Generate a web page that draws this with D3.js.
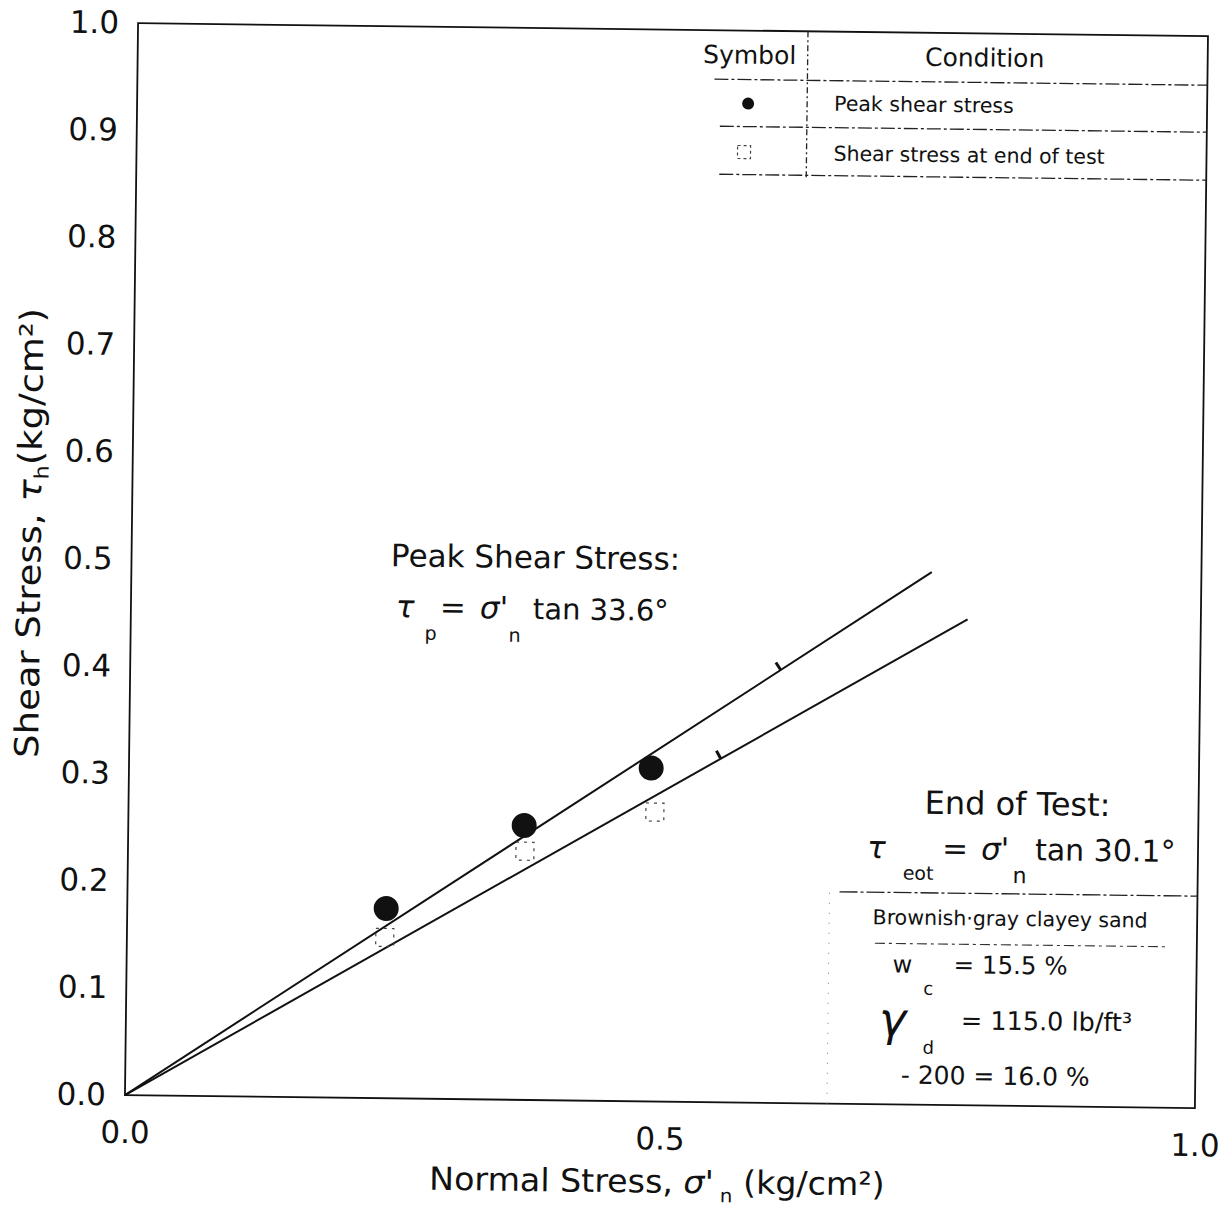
<!DOCTYPE html>
<html>
<head>
<meta charset="utf-8">
<script src="https://d3js.org/d3.v7.min.js"></script>
<style>
  html, body { margin: 0; padding: 0; background: #fff; }
  svg { display: block; }
  text { font-family: "DejaVu Sans", "Liberation Sans", sans-serif; fill: #111; }
</style>
</head>
<body>
<svg id="chart" width="1228" height="1209"></svg>
<script>
// Direct shear test results — brownish-gray clayey sand
const peakNormal = [0.242, 0.370, 0.488];   // σ'n, kg/cm²
const peakShear  = [0.177, 0.256, 0.311];   // τp, kg/cm²
const eotNormal  = [0.241, 0.371, 0.492];
const eotShear   = [0.150, 0.232, 0.270];
const peakAngle = 33.6;     // friction angle, degrees
const eotAngle  = 30.1;
const peakLineEnd = 0.748;  // σ'n where each envelope is stopped
const eotLineEnd  = 0.782;
const xTicks = [0, 0.5, 1.0];
const yTicks = [0, 0.1, 0.2, 0.3, 0.4, 0.5, 0.6, 0.7, 0.8, 0.9, 1.0];
const legendHeader = ["Symbol", "Condition"];
const legendRows = ["Peak shear stress", "Shear stress at end of test"];
const soilName = "Brownish·gray clayey sand";
const waterContent = "15.5 %";
const dryUnitWeight = "115.0 lb/ft³";
const fines = "16.0 %";

const svg = d3.select("#chart");
svg.append("rect").attr("width", 1228).attr("height", 1209).attr("fill", "#fff");

// whole sheet sits with a slight clockwise tilt
const g = svg.append("g").attr("transform", "rotate(0.7 614 604)");

const x = d3.scaleLinear().domain([0, 1]).range([131, 1201]);
const y = d3.scaleLinear().domain([0, 1]).range([1101, 29]);

// plot frame
g.append("rect")
  .attr("x", x(0)).attr("y", y(1))
  .attr("width", x(1) - x(0)).attr("height", y(0) - y(1))
  .attr("fill", "none").attr("stroke", "#111").attr("stroke-width", 1.8);

// axes (labels only, no tick marks)
const fmt = d3.format(".1f");
const yAxis = g.append("g").attr("transform", `translate(${x(0)},0)`)
  .call(d3.axisLeft(y).tickValues(yTicks).tickSize(0).tickPadding(19).tickFormat(fmt));
const xAxis = g.append("g").attr("transform", `translate(0,${y(0)})`)
  .call(d3.axisBottom(x).tickValues(xTicks).tickSize(0).tickPadding(26).tickFormat(fmt));
[yAxis, xAxis].forEach(a => {
  a.select(".domain").remove();
  a.selectAll("text").attr("font-size", 31).attr("font-family", '"DejaVu Sans", sans-serif').attr("fill", "#111");
});

// axis titles (set slightly wide)
const xt = g.append("text").attr("transform", "translate(664,1192) scale(1.04,1)")
  .attr("text-anchor", "middle").attr("font-size", 32);
xt.append("tspan").text("Normal Stress, ");
xt.append("tspan").text("σ'").attr("font-style", "italic");
xt.append("tspan").text(" n").attr("font-size", 19).attr("dy", 9);
xt.append("tspan").text(" (kg/cm²)").attr("dy", -9);

const yt = g.append("text").attr("transform", "translate(40,540) rotate(-90) scale(1.12,1)")
  .attr("text-anchor", "middle").attr("font-size", 33);
yt.append("tspan").text("Shear Stress, ");
yt.append("tspan").text("τ").attr("font-style", "italic");
yt.append("tspan").text("h").attr("font-size", 20).attr("dy", 7);
yt.append("tspan").text("(kg/cm²)").attr("dy", -7);

// failure envelopes
const line = d3.line().x(d => x(d[0])).y(d => y(d[1]));
const envelopes = [
  { angle: peakAngle, end: peakLineEnd, tick: 0.608 },
  { angle: eotAngle,  end: eotLineEnd,  tick: 0.553 }
];
envelopes.forEach(e => {
  const t = Math.tan(e.angle * Math.PI / 180);
  g.append("path").attr("d", line([[0, 0], [e.end, e.end * t]]))
    .attr("fill", "none").attr("stroke", "#111").attr("stroke-width", 2);
  // small mark on the envelope
  const px = x(e.tick), py = y(e.tick * t);
  const ang = Math.atan2(y(0) - y(t), x(1) - x(0));
  g.append("line")
    .attr("x1", px).attr("y1", py)
    .attr("x2", px - 9 * Math.sin(ang)).attr("y2", py - 9 * Math.cos(ang))
    .attr("stroke", "#111").attr("stroke-width", 3);
});

// end-of-test points (faint open squares)
g.selectAll(".eot").data(eotNormal.map((v, i) => [v, eotShear[i]])).join("rect")
  .attr("class", "eot")
  .attr("x", d => x(d[0]) - 9).attr("y", d => y(d[1]) - 9)
  .attr("width", 18).attr("height", 18)
  .attr("fill", "none").attr("stroke", "#444").attr("stroke-width", 1.2)
  .attr("stroke-dasharray", "3,5");

// peak points
g.selectAll(".peak").data(peakNormal.map((v, i) => [v, peakShear[i]])).join("circle")
  .attr("class", "peak")
  .attr("cx", d => x(d[0])).attr("cy", d => y(d[1])).attr("r", 12.5)
  .attr("fill", "#111");

// legend table
const dash = "14,3,3,3";
const leg = g.append("g");
[[708, 78], [714, 125], [714, 173]].forEach(([x0, yy]) => {
  leg.append("line").attr("x1", x0).attr("x2", x(1)).attr("y1", yy).attr("y2", yy)
    .attr("stroke", "#222").attr("stroke-width", 1.3).attr("stroke-dasharray", dash);
});
leg.append("line").attr("x1", 801).attr("x2", 801).attr("y1", y(1)).attr("y2", 176)
  .attr("stroke", "#222").attr("stroke-width", 1.3).attr("stroke-dasharray", "6,3,2,3");
leg.append("text").attr("x", 743).attr("y", 62).attr("text-anchor", "middle").attr("font-size", 25).text(legendHeader[0]);
leg.append("text").attr("x", 978).attr("y", 62).attr("text-anchor", "middle").attr("font-size", 25).text(legendHeader[1]);
leg.append("circle").attr("cx", 742).attr("cy", 102).attr("r", 6).attr("fill", "#111");
leg.append("rect").attr("x", 732).attr("y", 144).attr("width", 13).attr("height", 13)
  .attr("fill", "none").attr("stroke", "#444").attr("stroke-width", 1.2).attr("stroke-dasharray", "3,3");
legendRows.forEach((r, i) => {
  leg.append("text").attr("x", 828).attr("y", 108 + i * 50).attr("font-size", 20.5).text(r);
});

// peak envelope annotation
const pa = g.append("g");
pa.append("text").attr("x", 535).attr("y", 569).attr("text-anchor", "middle").attr("font-size", 31).text("Peak Shear Stress:");
pa.append("text").attr("x", 396).attr("y", 620).attr("font-size", 31).attr("font-style", "italic").text("τ");
pa.append("text").attr("x", 425).attr("y", 642).attr("font-size", 19).text("p");
pa.append("text").attr("x", 440).attr("y", 620).attr("font-size", 31).text("=");
pa.append("text").attr("x", 480).attr("y", 620).attr("font-size", 31).attr("font-style", "italic").text("σ'");
pa.append("text").attr("x", 509).attr("y", 643).attr("font-size", 19).text("n");
pa.append("text").attr("x", 533).attr("y", 620).attr("font-size", 29).text(`tan ${peakAngle}°`);

// end-of-test annotation and soil data box
const ea = g.append("g");
ea.append("text").attr("x", 1020).attr("y", 810).attr("text-anchor", "middle").attr("font-size", 32).text("End of Test:");
ea.append("text").attr("x", 870).attr("y", 855).attr("font-size", 31).attr("font-style", "italic").text("τ");
ea.append("text").attr("x", 906).attr("y", 876).attr("font-size", 19).text("eot");
ea.append("text").attr("x", 945).attr("y", 855).attr("font-size", 31).text("=");
ea.append("text").attr("x", 984).attr("y", 855).attr("font-size", 31).attr("font-style", "italic").text("σ'");
ea.append("text").attr("x", 1016).attr("y", 878).attr("font-size", 22).text("n");
ea.append("text").attr("x", 1038).attr("y", 855).attr("font-size", 30).text(`tan ${eotAngle}°`);

ea.append("line").attr("x1", 843).attr("x2", x(1)).attr("y1", 889).attr("y2", 889)
  .attr("stroke", "#222").attr("stroke-width", 1.3).attr("stroke-dasharray", "18,3,3,3");
ea.append("line").attr("x1", 879).attr("x2", 1170).attr("y1", 940).attr("y2", 940)
  .attr("stroke", "#333").attr("stroke-width", 1.1).attr("stroke-dasharray", "10,4,3,4");
ea.append("line").attr("x1", 833).attr("x2", 833).attr("y1", 890).attr("y2", y(0))
  .attr("stroke", "#777").attr("stroke-width", 1).attr("stroke-dasharray", "1,9");

ea.append("text").attr("x", 1014).attr("y", 921).attr("text-anchor", "middle").attr("font-size", 20.5).text(soilName);
ea.append("text").attr("x", 897).attr("y", 969).attr("font-size", 24).text("w");
ea.append("text").attr("x", 928).attr("y", 991).attr("font-size", 18).text("c");
ea.append("text").attr("x", 958).attr("y", 969).attr("font-size", 24.5).text(`= ${waterContent}`);
ea.append("text").attr("x", 884).attr("y", 1032).attr("font-size", 46)
  .attr("font-family", '"DejaVu Serif", serif').attr("font-style", "italic").text("γ");
ea.append("text").attr("x", 928).attr("y", 1050).attr("font-size", 18).text("d");
ea.append("text").attr("x", 966).attr("y", 1025).attr("font-size", 25.5).text(`= ${dryUnitWeight}`);
ea.append("text").attr("x", 1001).attr("y", 1080).attr("text-anchor", "middle").attr("font-size", 25).text(`- 200 = ${fines}`);
</script>
</body>
</html>
